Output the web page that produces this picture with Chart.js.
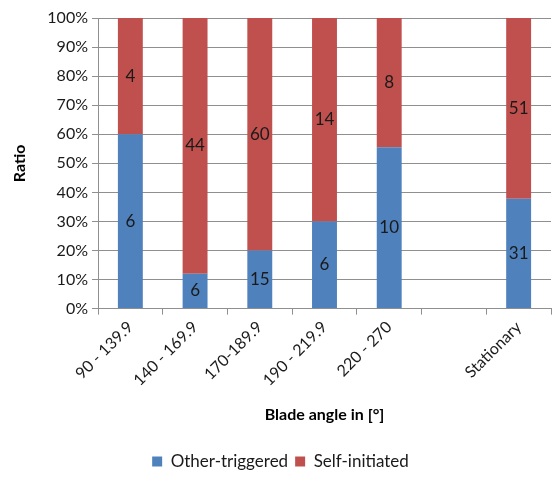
<!DOCTYPE html>
<html>
<head>
<meta charset="utf-8">
<script src="https://cdn.jsdelivr.net/npm/chart.js@4"></script>
<style>
  html, body { margin: 0; padding: 0; background: #fff; }
  #wrap { width: 553px; height: 480px; }
</style>
</head>
<body>
<div id="wrap"><canvas id="myChart" width="553" height="480"></canvas></div>
<script>
const angleBins = ['90 - 139.9', '140 - 169.9', '170-189.9', '190 - 219.9', '220 - 270', '', 'Stationary'];
const otherTriggered = [6, 6, 15, 6, 10, null, 31];
const selfInitiated = [4, 44, 60, 14, 8, null, 51];
const yTicks = [0, 10, 20, 30, 40, 50, 60, 70, 80, 90, 100];

const FONT = 'Lato, "Open Sans", sans-serif';
const GRID = '#8f8f8f';

// share of each count within its bin
function percentOf(counts, other) {
    return counts.map((v, i) => v == null ? null : 100 * v / (v + other[i]));
}

const otherPct = percentOf(otherTriggered, selfInitiated);
const selfPct = percentOf(selfInitiated, otherTriggered);

// writes the raw counts in the middle of each segment
const countLabels = {
    id: 'countLabels',
    afterDatasetsDraw(chart) {
        const ctx = chart.ctx;
        ctx.save();
        ctx.font = '17px ' + FONT;
        ctx.fillStyle = '#1a1a1a';
        ctx.textAlign = 'center';
        ctx.textBaseline = 'middle';
        chart.data.datasets.forEach((ds, di) => {
            chart.getDatasetMeta(di).data.forEach((bar, i) => {
                const n = ds.counts[i];
                if (n == null) return;
                const mid = (bar.y + bar.base) / 2;
                ctx.fillText(String(n), bar.x, mid);
            });
        });
        ctx.restore();
    }
};

const ctx = document.getElementById('myChart').getContext('2d');

new Chart(ctx, {
    type: 'bar',
    data: {
        labels: angleBins,
        datasets: [
            {
                label: 'Other-triggered',
                data: otherPct,
                counts: otherTriggered,
                backgroundColor: '#4F81BD'
            },
            {
                label: 'Self-initiated',
                data: selfPct,
                counts: selfInitiated,
                backgroundColor: '#C0504D'
            }
        ]
    },
    options: {
        responsive: false,
        animation: false,
        devicePixelRatio: 1,
        categoryPercentage: 0.77,
        barPercentage: 0.5,
        layout: { padding: { left: 10, right: 2, top: 18, bottom: 0 } },
        plugins: {
            tooltip: { enabled: false },
            legend: {
                position: 'bottom',
                labels: {
                    boxWidth: 10,
                    boxHeight: 10,
                    padding: 7,
                    color: '#1a1a1a',
                    font: { family: FONT, size: 17 }
                }
            }
        },
        scales: {
            x: {
                stacked: true,
                offset: true,
                grid: {
                    offset: true,
                    drawOnChartArea: false,
                    drawTicks: true,
                    tickLength: 6,
                    color: GRID
                },
                border: { color: GRID },
                ticks: {
                    color: '#1a1a1a',
                    font: { family: FONT, size: 16 },
                    maxRotation: 45,
                    minRotation: 45,
                    autoSkip: false
                },
                title: {
                    display: true,
                    text: 'Blade angle in [°]',
                    color: '#000',
                    font: { family: FONT, size: 16, weight: 'bold' },
                    padding: { top: 12, bottom: 22 }
                }
            },
            y: {
                stacked: true,
                min: 0,
                max: 100,
                afterBuildTicks(axis) {
                    axis.ticks = yTicks.map(v => ({ value: v }));
                },
                afterFit(axis) {
                    axis.width = 88;
                },
                grid: {
                    color: GRID,
                    tickLength: 6
                },
                border: { color: GRID },
                ticks: {
                    color: '#1a1a1a',
                    font: { family: FONT, size: 16 },
                    padding: 4,
                    callback: v => v + '%'
                },
                title: {
                    display: true,
                    text: 'Ratio',
                    color: '#000',
                    font: { family: FONT, size: 16, weight: 'bold' },
                    padding: 0
                }
            }
        }
    },
    plugins: [countLabels]
});
</script>
</body>
</html>
